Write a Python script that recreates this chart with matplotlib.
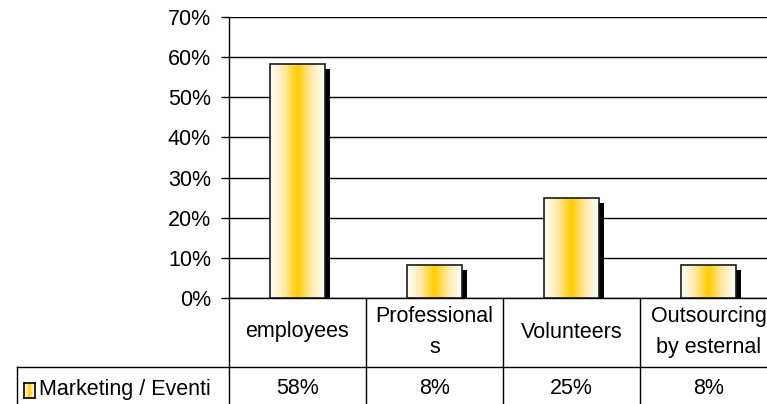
import matplotlib
matplotlib.use('Agg')
import matplotlib.pyplot as plt
import matplotlib.transforms as mtransforms
from matplotlib.colors import LinearSegmentedColormap
from matplotlib.lines import Line2D
import numpy as np

# Chart data
categories = ['employees', 'Professional\ns', 'Volunteers', 'Outsourcing\nby esternal']
values = [58.3, 8.3, 25.0, 8.3]
value_labels = ['58%', '8%', '25%', '8%']
series_name = 'Marketing / Eventi'
y_ticks = [0, 10, 20, 30, 40, 50, 60, 70]

# Figure geometry in pixels
W, H = 767, 404
plt.rcParams['font.family'] = ['Liberation Sans', 'DejaVu Sans']
FS = 15.5


def fx(px):
    return px / W


def fy(py):
    return 1 - py / H


# Gradient used for the bars (white - gold - white)
gold = LinearSegmentedColormap.from_list(
    'gold', [(0.0, '#ffffff'), (0.25, '#ffe9a8'), (0.5, '#ffcc00'),
             (0.75, '#ffe9a8'), (1.0, '#ffffff')])
grad = np.linspace(0, 1, 256).reshape(1, -1)


def main():
    fig = plt.figure(figsize=(W / 100, H / 100), dpi=100)
    ax = fig.add_axes([fx(229), fy(298), 548 / W, (298 - 17) / H])

    x = np.arange(len(categories))
    width = 0.4

    # Drop shadow, offset right and down
    offset = mtransforms.ScaledTranslation(5 / 100, -5 / 100, fig.dpi_scale_trans)
    shadows = ax.bar(x, values, width, color='black', zorder=2)
    for s in shadows:
        s.set_transform(ax.transData + offset)

    # Bars with horizontal gradient fill
    bars = ax.bar(x, values, width, facecolor='none', edgecolor='#1a1a1a',
                  linewidth=1.2, zorder=4)
    for b in bars:
        x0, w, h = b.get_x(), b.get_width(), b.get_height()
        im = ax.imshow(grad, extent=[x0, x0 + w, 0, h], aspect='auto',
                       cmap=gold, zorder=3, interpolation='bilinear')
        im.set_clip_path(b)
        ax.add_patch(plt.Rectangle((x0, 0), w, h, facecolor='white', zorder=2.5))

    ax.set_xlim(-0.5, len(categories) - 0.5)
    ax.set_ylim(0, 70)
    ax.set_yticks(y_ticks)
    ax.set_yticklabels([f'{t}%' for t in y_ticks], fontsize=FS)
    ax.tick_params(axis='y', length=6, width=1, pad=7, color='black')
    ax.set_xticks([])
    ax.yaxis.grid(True, color='black', linewidth=1)
    ax.set_axisbelow(True)
    for side in ['top', 'right']:
        ax.spines[side].set_visible(False)
    ax.spines['left'].set_linewidth(1)
    ax.spines['bottom'].set_linewidth(1)

    # Data table below the chart
    blend = mtransforms.blended_transform_factory(ax.transData, fig.transFigure)
    for b in np.arange(len(categories) + 1) - 0.5:
        fig.add_artist(Line2D([b, b], [fy(298), 0], transform=blend,
                              color='black', linewidth=1))
    fig.add_artist(Line2D([fx(17), 1.0], [fy(367), fy(367)],
                          color='black', linewidth=1))
    fig.add_artist(Line2D([fx(17), fx(17)], [fy(367), 0],
                          color='black', linewidth=1))

    for i, (cat, lab) in enumerate(zip(categories, value_labels)):
        fig.text(i, fy(332), cat, transform=blend, ha='center', va='center',
                 fontsize=FS, linespacing=1.6)
        fig.text(i, fy(388), lab, transform=blend, ha='center', va='center',
                 fontsize=FS)

    # Legend key in the table's row header
    key = fig.add_axes([fx(24), fy(398), 11 / W, 15 / H])
    key.imshow(grad, aspect='auto', cmap=gold, extent=[0, 1, 0, 1])
    key.set_xticks([])
    key.set_yticks([])
    for sp in key.spines.values():
        sp.set_linewidth(1.2)
    fig.text(fx(39), fy(389), series_name, ha='left', va='center', fontsize=FS)

    fig.savefig('out.png', dpi=100)


if __name__ == '__main__':
    main()
